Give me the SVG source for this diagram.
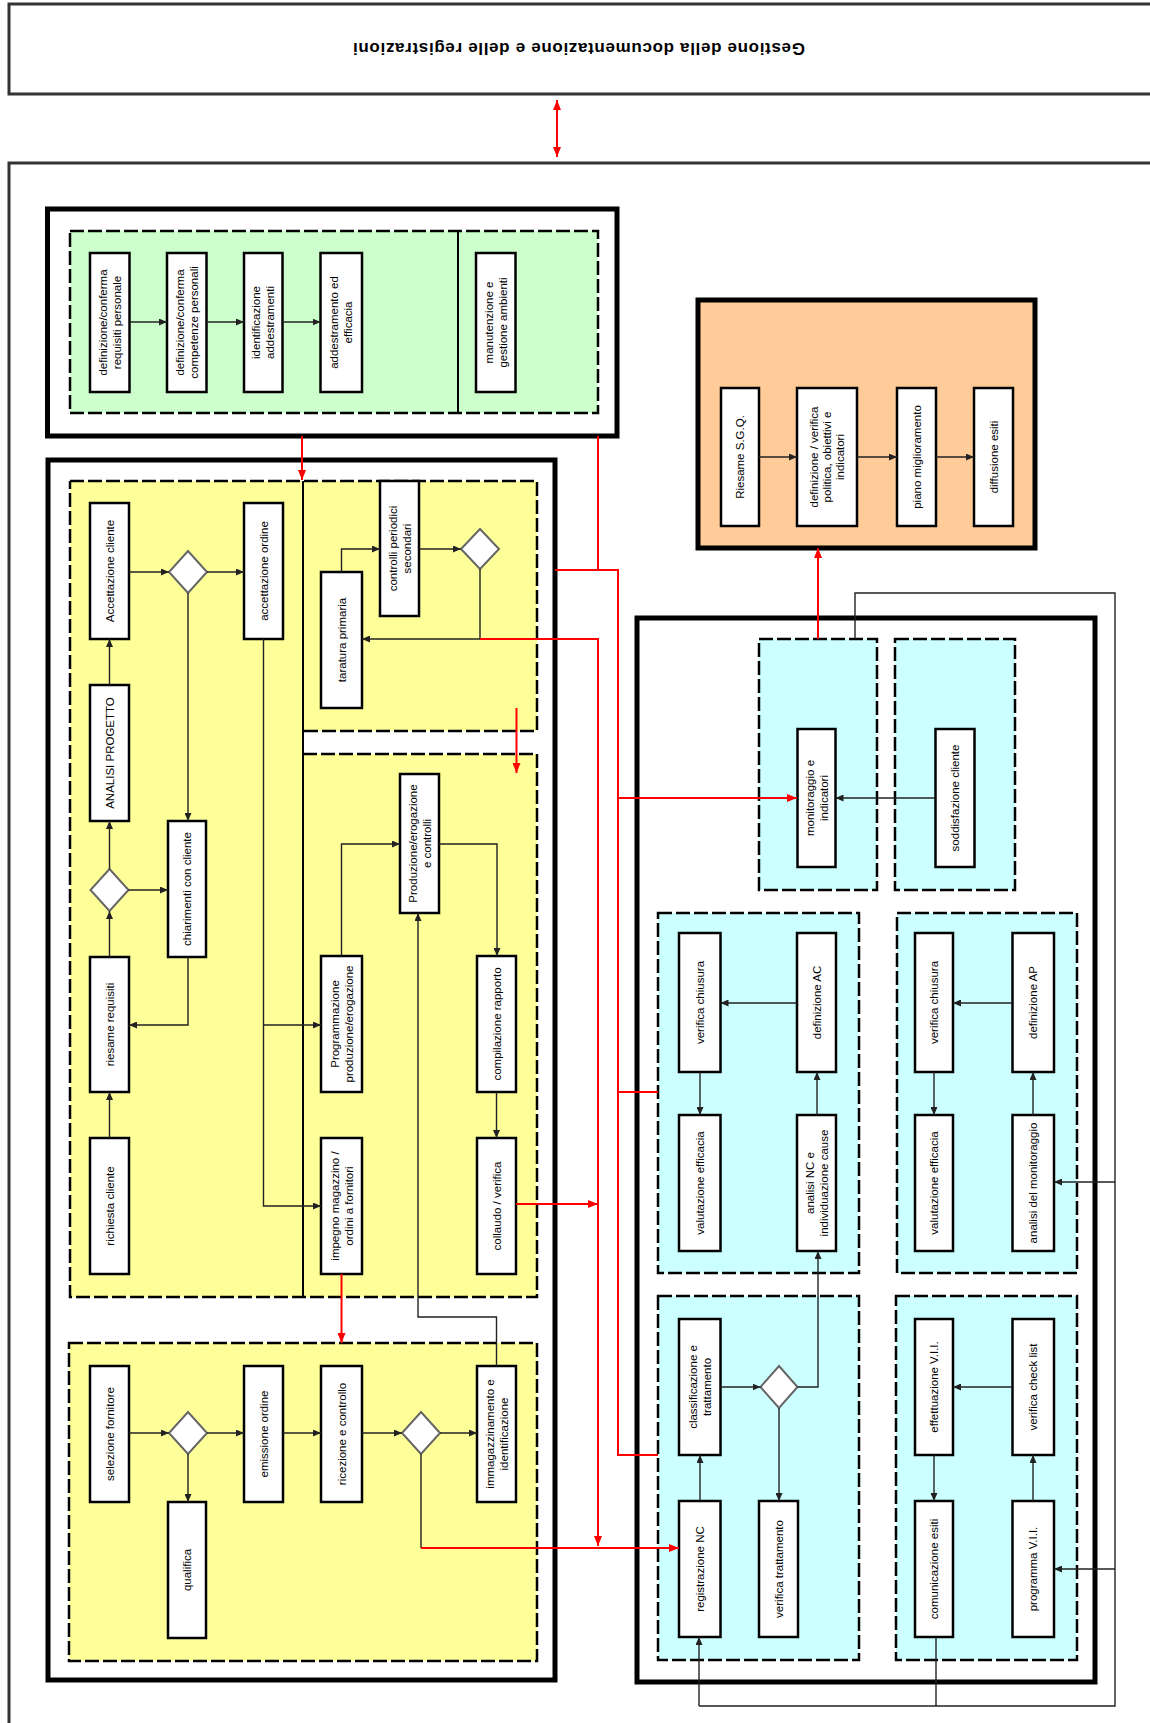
<svg xmlns="http://www.w3.org/2000/svg" width="1150" height="1723" viewBox="0 0 1150 1723">
<defs>
<style>
.box{fill:#fff;stroke:#000;stroke-width:2.5}
.dia{fill:#fff;stroke:#666;stroke-width:2}
.sec{fill:none;stroke:#000;stroke-width:2.5;stroke-dasharray:14 4}
.outer{fill:none;stroke:#000;stroke-width:5}
.frame{fill:none;stroke:#333;stroke-width:3}
.c{fill:none;stroke:#222;stroke-width:1.4;marker-end:url(#a)}
.l{fill:none;stroke:#222;stroke-width:1.4}
.r{fill:none;stroke:#f00;stroke-width:2}
.ra{fill:none;stroke:#f00;stroke-width:2;marker-end:url(#ar)}
.t{font-family:"Liberation Sans",Arial,sans-serif;font-size:11.5px;fill:#000;text-anchor:middle}
.h{font-family:"Liberation Sans",Arial,sans-serif;font-size:17px;font-weight:bold;fill:#000;text-anchor:middle}
</style>
<marker id="a" markerUnits="userSpaceOnUse" markerWidth="8" markerHeight="7" refX="8" refY="3.5" orient="auto"><path d="M0,0 L8,3.5 L0,7 z" fill="#222"/></marker>
<marker id="ar" markerUnits="userSpaceOnUse" markerWidth="10" markerHeight="8" refX="10" refY="4" orient="auto-start-reverse"><path d="M0,0 L10,4 L0,8 z" fill="#f00"/></marker>
</defs>

<!-- header -->
<g id="header">
<path class="frame" d="M1150,4 H9 V94 H1150"/>
<text class="h" transform="translate(579,49) rotate(180)" y="6" textLength="452">Gestione della documentazione e delle registrazioni</text>
</g>
<g id="main-frame"><path class="frame" d="M1150,163 H9 V1723"/></g>

<!-- green area -->
<g id="area-risorse">
<rect x="70" y="231" width="528" height="182" fill="#CCFFCC"/>
<rect class="sec" x="70" y="231" width="528" height="182"/>
<path d="M458,231 V413" stroke="#000" stroke-width="2"/>
<rect class="outer" x="47.5" y="209" width="569.5" height="227"/>
</g>
<g id="g1"><rect class="box" x="90" y="253" width="39.5" height="139"/><text class="t" transform="translate(109.75,322.5) rotate(-90)"><tspan x="0" y="-3">definizione/conferma</tspan><tspan x="0" y="11">requisiti personale</tspan></text></g>
<g id="g2"><rect class="box" x="167" y="253" width="39.5" height="139"/><text class="t" transform="translate(186.75,322.5) rotate(-90)"><tspan x="0" y="-3">definizione/conferma</tspan><tspan x="0" y="11">competenze personali</tspan></text></g>
<g id="g3"><rect class="box" x="244" y="253" width="38.5" height="139"/><text class="t" transform="translate(263.25,322.5) rotate(-90)"><tspan x="0" y="-3">identificazione</tspan><tspan x="0" y="11">addestramenti</tspan></text></g>
<g id="g4"><rect class="box" x="320.5" y="253" width="41.5" height="139"/><text class="t" transform="translate(341.25,322.5) rotate(-90)"><tspan x="0" y="-3">addestramento ed</tspan><tspan x="0" y="11">efficacia</tspan></text></g>
<g id="g5"><rect class="box" x="476" y="253" width="39.5" height="139"/><text class="t" transform="translate(495.75,322.5) rotate(-90)"><tspan x="0" y="-3">manutenzione e</tspan><tspan x="0" y="11">gestione ambienti</tspan></text></g>

<!-- orange area -->
<g id="area-direzione">
<rect x="698" y="300" width="337" height="248" fill="#FFCC99"/>
<rect class="outer" x="698" y="300" width="337" height="248"/>
</g>
<g id="o1"><rect class="box" x="721" y="388" width="38" height="138"/><text class="t" transform="translate(740,457) rotate(-90)"><tspan x="0" y="4">Riesame S.G.Q.</tspan></text></g>
<g id="o2"><rect class="box" x="797" y="388" width="60" height="138"/><text class="t" transform="translate(827,457) rotate(-90)"><tspan x="0" y="-9">definizione / verifica</tspan><tspan x="0" y="4">politica, obiettivi e</tspan><tspan x="0" y="17">indicatori</tspan></text></g>
<g id="o3"><rect class="box" x="897" y="388" width="39" height="138"/><text class="t" transform="translate(916.5,457) rotate(-90)"><tspan x="0" y="4">piano miglioramento</tspan></text></g>
<g id="o4"><rect class="box" x="974" y="388" width="39" height="138"/><text class="t" transform="translate(993.5,457) rotate(-90)"><tspan x="0" y="4">diffusione esiti</tspan></text></g>

<!-- yellow area -->
<g id="area-processi">
<rect x="70" y="481" width="233" height="816" fill="#FFFF99"/>
<rect x="303" y="481" width="234" height="250" fill="#FFFF99"/>
<rect x="303" y="754" width="234" height="543" fill="#FFFF99"/>
<path class="sec" d="M70,481 H537 V731 H303 M303,754 H537 V1297 H70 V481"/>
<path d="M303,481 V1297" stroke="#000" stroke-width="2"/>
<rect x="69" y="1343" width="468" height="318" fill="#FFFF99"/>
<rect class="sec" x="69" y="1343" width="468" height="318"/>
<rect class="outer" x="48" y="460" width="507" height="1220"/>
</g>
<g id="y-acc-cliente"><rect class="box" x="90" y="503" width="39" height="136"/><text class="t" transform="translate(109.5,571) rotate(-90)"><tspan x="0" y="4">Accettazione cliente</tspan></text></g>
<g id="y-d1"><polygon class="dia" points="188,551 207,572 188,593 169,572"/></g>
<g id="y-acc-ordine"><rect class="box" x="244" y="503" width="39" height="136"/><text class="t" transform="translate(263.5,571) rotate(-90)"><tspan x="0" y="4">accettazione ordine</tspan></text></g>
<g id="y-taratura"><rect class="box" x="321" y="572" width="41" height="136"/><text class="t" transform="translate(341.5,640) rotate(-90)"><tspan x="0" y="4">taratura primaria</tspan></text></g>
<g id="y-controlli"><rect class="box" x="380" y="481" width="39" height="135"/><text class="t" transform="translate(399.5,548.5) rotate(-90)"><tspan x="0" y="-3">controlli periodici</tspan><tspan x="0" y="11">secondari</tspan></text></g>
<g id="y-d2"><polygon class="dia" points="480,529 499,549 480,569 461,549"/></g>
<g id="y-analisi"><rect class="box" x="90" y="685" width="39" height="136"/><text class="t" transform="translate(109.5,753) rotate(-90)"><tspan x="0" y="4">ANALISI PROGETTO</tspan></text></g>
<g id="y-chiarimenti"><rect class="box" x="168" y="821" width="38" height="136"/><text class="t" transform="translate(187,889) rotate(-90)"><tspan x="0" y="4">chiarimenti con cliente</tspan></text></g>
<g id="y-d3"><polygon class="dia" points="109.5,869 128.5,890 109.5,911 90.5,890"/></g>
<g id="y-riesame"><rect class="box" x="90" y="957" width="39" height="135"/><text class="t" transform="translate(109.5,1024.5) rotate(-90)"><tspan x="0" y="4">riesame requisiti</tspan></text></g>
<g id="y-richiesta"><rect class="box" x="90" y="1138" width="39" height="136"/><text class="t" transform="translate(109.5,1206) rotate(-90)"><tspan x="0" y="4">richiesta cliente</tspan></text></g>
<g id="y-produzione"><rect class="box" x="400" y="774" width="39" height="139"/><text class="t" transform="translate(419.5,843.5) rotate(-90)"><tspan x="0" y="-3">Produzione/erogazione</tspan><tspan x="0" y="11">e controlli</tspan></text></g>
<g id="y-programmazione"><rect class="box" x="321" y="956" width="41" height="136"/><text class="t" transform="translate(341.5,1024) rotate(-90)"><tspan x="0" y="-3">Programmazione</tspan><tspan x="0" y="11">produzione/erogazione</tspan></text></g>
<g id="y-compilazione"><rect class="box" x="477" y="956" width="39" height="136"/><text class="t" transform="translate(496.5,1024) rotate(-90)"><tspan x="0" y="4">compilazione rapporto</tspan></text></g>
<g id="y-impegno"><rect class="box" x="321" y="1138" width="41" height="136"/><text class="t" transform="translate(341.5,1206) rotate(-90)"><tspan x="0" y="-3">impegno magazzino /</tspan><tspan x="0" y="11">ordini a fornitori</tspan></text></g>
<g id="y-collaudo"><rect class="box" x="477" y="1138" width="39" height="136"/><text class="t" transform="translate(496.5,1206) rotate(-90)"><tspan x="0" y="4">collaudo / verifica</tspan></text></g>
<g id="y-selezione"><rect class="box" x="90" y="1366" width="39" height="136"/><text class="t" transform="translate(109.5,1434) rotate(-90)"><tspan x="0" y="4">selezione fornitore</tspan></text></g>
<g id="y-d4"><polygon class="dia" points="188,1412 207,1433 188,1454 169,1433"/></g>
<g id="y-qualifica"><rect class="box" x="168" y="1502" width="38" height="136"/><text class="t" transform="translate(187,1570) rotate(-90)"><tspan x="0" y="4">qualifica</tspan></text></g>
<g id="y-emissione"><rect class="box" x="244" y="1366" width="39" height="136"/><text class="t" transform="translate(263.5,1434) rotate(-90)"><tspan x="0" y="4">emissione ordine</tspan></text></g>
<g id="y-ricezione"><rect class="box" x="321" y="1366" width="41" height="136"/><text class="t" transform="translate(341.5,1434) rotate(-90)"><tspan x="0" y="4">ricezione e controllo</tspan></text></g>
<g id="y-d5"><polygon class="dia" points="421,1412 440,1433 421,1454 402,1433"/></g>
<g id="y-immagazzinamento"><rect class="box" x="477" y="1366" width="39" height="136"/><text class="t" transform="translate(496.5,1434) rotate(-90)"><tspan x="0" y="-3">immagazzinamento e</tspan><tspan x="0" y="11">identificazione</tspan></text></g>

<!-- cyan area -->
<g id="area-misure">
<rect x="759" y="639" width="118" height="251" fill="#CCFFFF"/><rect class="sec" x="759" y="639" width="118" height="251"/>
<rect x="895" y="639" width="120" height="251" fill="#CCFFFF"/><rect class="sec" x="895" y="639" width="120" height="251"/>
<rect x="658" y="913" width="201" height="360" fill="#CCFFFF"/><rect class="sec" x="658" y="913" width="201" height="360"/>
<rect x="897" y="913" width="180" height="360" fill="#CCFFFF"/><rect class="sec" x="897" y="913" width="180" height="360"/>
<rect x="658" y="1296" width="201" height="364" fill="#CCFFFF"/><rect class="sec" x="658" y="1296" width="201" height="364"/>
<rect x="896" y="1296" width="181" height="364" fill="#CCFFFF"/><rect class="sec" x="896" y="1296" width="181" height="364"/>
<rect class="outer" x="637" y="618" width="458" height="1064"/>
</g>
<g id="c-monitoraggio"><rect class="box" x="797.5" y="729" width="38" height="138"/><text class="t" transform="translate(816.5,798) rotate(-90)"><tspan x="0" y="-3">monitoraggio e</tspan><tspan x="0" y="11">indicatori</tspan></text></g>
<g id="c-soddisfazione"><rect class="box" x="935.5" y="729" width="39" height="138"/><text class="t" transform="translate(955,798) rotate(-90)"><tspan x="0" y="4">soddisfazione cliente</tspan></text></g>
<g id="c-ver-chiusura-ac"><rect class="box" x="679" y="933" width="41.5" height="139"/><text class="t" transform="translate(699.75,1002.5) rotate(-90)"><tspan x="0" y="4">verifica chiusura</tspan></text></g>
<g id="c-def-ac"><rect class="box" x="797" y="933" width="39" height="139"/><text class="t" transform="translate(816.5,1002.5) rotate(-90)"><tspan x="0" y="4">definizione AC</tspan></text></g>
<g id="c-val-ac"><rect class="box" x="679" y="1115" width="41.5" height="136"/><text class="t" transform="translate(699.75,1183) rotate(-90)"><tspan x="0" y="4">valutazione efficacia</tspan></text></g>
<g id="c-analisi-nc"><rect class="box" x="797" y="1115" width="39" height="136"/><text class="t" transform="translate(816.5,1183) rotate(-90)"><tspan x="0" y="-3">analisi NC e</tspan><tspan x="0" y="11">individuazione cause</tspan></text></g>
<g id="c-ver-chiusura-ap"><rect class="box" x="915" y="933" width="38" height="139"/><text class="t" transform="translate(934,1002.5) rotate(-90)"><tspan x="0" y="4">verifica chiusura</tspan></text></g>
<g id="c-def-ap"><rect class="box" x="1012.5" y="933" width="41.5" height="139"/><text class="t" transform="translate(1033.25,1002.5) rotate(-90)"><tspan x="0" y="4">definizione AP</tspan></text></g>
<g id="c-val-ap"><rect class="box" x="915" y="1115" width="38" height="136"/><text class="t" transform="translate(934,1183) rotate(-90)"><tspan x="0" y="4">valutazione efficacia</tspan></text></g>
<g id="c-analisi-mon"><rect class="box" x="1012.5" y="1115" width="41.5" height="136"/><text class="t" transform="translate(1033.25,1183) rotate(-90)"><tspan x="0" y="4">analisi del monitoraggio</tspan></text></g>
<g id="c-classificazione"><rect class="box" x="679" y="1319" width="41.5" height="136"/><text class="t" transform="translate(699.75,1387) rotate(-90)"><tspan x="0" y="-3">classificazione e</tspan><tspan x="0" y="11">trattamento</tspan></text></g>
<g id="c-d6"><polygon class="dia" points="779,1366 797.5,1387 779,1408 760.5,1387"/></g>
<g id="c-registrazione"><rect class="box" x="679" y="1501" width="41.5" height="136"/><text class="t" transform="translate(699.75,1569) rotate(-90)"><tspan x="0" y="4">registrazione NC</tspan></text></g>
<g id="c-ver-trattamento"><rect class="box" x="759" y="1501" width="39" height="136"/><text class="t" transform="translate(778.5,1569) rotate(-90)"><tspan x="0" y="4">verifica trattamento</tspan></text></g>
<g id="c-effettuazione"><rect class="box" x="915" y="1319" width="38" height="136"/><text class="t" transform="translate(934,1387) rotate(-90)"><tspan x="0" y="4">effettuazione V.I.I.</tspan></text></g>
<g id="c-checklist"><rect class="box" x="1012.5" y="1319" width="41.5" height="136"/><text class="t" transform="translate(1033.25,1387) rotate(-90)"><tspan x="0" y="4">verifica check list</tspan></text></g>
<g id="c-comunicazione"><rect class="box" x="915" y="1501" width="38" height="136"/><text class="t" transform="translate(934,1569) rotate(-90)"><tspan x="0" y="4">comunicazione esiti</tspan></text></g>
<g id="c-programma"><rect class="box" x="1012.5" y="1501" width="41.5" height="136"/><text class="t" transform="translate(1033.25,1569) rotate(-90)"><tspan x="0" y="4">programma V.I.I.</tspan></text></g>

<!-- connectors -->
<g id="connectors">
<path class="c" d="M129.5,322 H167"/>
<path class="c" d="M206.5,322 H244"/>
<path class="c" d="M282.5,322 H320.5"/>
<path class="c" d="M759,457 H797"/>
<path class="c" d="M857,457 H897"/>
<path class="c" d="M936,457 H974"/>

<path class="c" d="M109.5,685 V639"/>
<path class="c" d="M129,572 H169"/>
<path class="c" d="M207,572 H244"/>
<path class="c" d="M188,593 V821"/>
<path class="c" d="M109.5,869 V821"/>
<path class="c" d="M128.5,890 H168"/>
<path class="c" d="M109.5,957 V911"/>
<path class="c" d="M188,957 V1025 H129"/>
<path class="c" d="M109.5,1138 V1092"/>
<path class="c" d="M263.5,639 V1206 H321"/>
<path class="c" d="M263.5,1025 H321"/>
<path class="c" d="M341.5,572 V549 H380"/>
<path class="c" d="M419,549 H461"/>
<path class="c" d="M480,569 V639 H362"/>
<path class="c" d="M341.5,956 V844 H400"/>
<path class="c" d="M439,844 H497 V956"/>
<path class="c" d="M496.5,1092 V1138"/>
<path class="c" d="M496.5,1366 V1317 H418 V913"/>
<path class="c" d="M129,1433 H169"/>
<path class="c" d="M207,1433 H244"/>
<path class="c" d="M283,1433 H321"/>
<path class="c" d="M362,1433 H402"/>
<path class="c" d="M440,1433 H477"/>
<path class="c" d="M188,1454 V1502"/>
<path class="l" d="M421,1454 V1548"/>

<path class="c" d="M935.5,798 H835.5"/>
<path class="c" d="M797,1003 H720.5"/>
<path class="c" d="M700,1072 V1115"/>
<path class="c" d="M817,1115 V1072"/>
<path class="c" d="M1012.5,1003 H953"/>
<path class="c" d="M934,1072 V1115"/>
<path class="c" d="M1033,1115 V1072"/>
<path class="c" d="M1115,1182 H1054"/>
<path class="c" d="M720.5,1387 H760.5"/>
<path class="c" d="M797.5,1387 H818 V1251"/>
<path class="c" d="M779,1408 V1501"/>
<path class="c" d="M700,1501 V1455"/>
<path class="c" d="M1012.5,1387 H953"/>
<path class="c" d="M934,1455 V1501"/>
<path class="c" d="M1033,1501 V1455"/>
<path class="c" d="M1115,1569 H1054"/>
<path class="l" d="M855,639 V593 H1115 V1706 H699"/>
<path class="c" d="M699,1706 V1637"/>
<path class="l" d="M936,1637 V1706"/>

<path class="ra" d="M557,100 V157" marker-start="url(#ar)"/>
<path class="ra" d="M302,436 V480"/>
<path class="r" d="M598,436 V570 M555,570 H618 V1455 H658 M618,1092 H658"/>
<path class="ra" d="M618,798 H797"/>
<path class="ra" d="M480,639 H598 V1546"/>
<path class="ra" d="M516,1204 H598"/>
<path class="ra" d="M341.5,1274 V1343"/>
<path class="ra" d="M516.5,708 V773"/>
<path class="ra" d="M818,639 V548"/>
<path class="ra" d="M421,1548 H679"/>
</g>
</svg>
